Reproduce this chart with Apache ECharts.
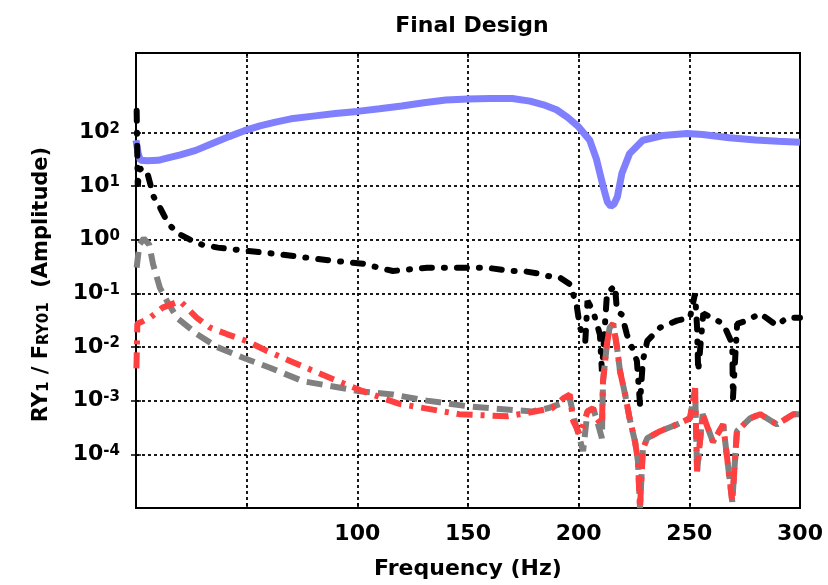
<!DOCTYPE html>
<html>
<head>
<meta charset="utf-8">
<script src="https://cdn.jsdelivr.net/npm/echarts@6/dist/echarts.min.js"></script>
<style>
  html, body { margin: 0; padding: 0; background: #fff; }
  #chart { width: 828px; height: 585px; }
</style>
</head>
<body>
<div id="chart"></div>
<script>
// frequency (Hz) and amplitude
const blueFreq = [0, 1, 2, 5, 10, 14, 20, 27, 35, 42, 49, 56, 63, 70, 80, 90, 100, 110, 120, 130, 140, 150, 160, 170, 178, 185, 190, 195, 200, 205, 208, 211, 213, 214.5, 216, 217.5, 219.5, 223, 229, 238, 249, 256, 268, 280, 290, 300];
const blueAmp = [71, 40, 30, 29.5, 30, 33, 38, 46, 63, 83, 107, 132, 155, 178, 200, 224, 245, 275, 309, 355, 398, 417, 427, 427, 380, 316, 263, 190, 126, 71, 32, 10, 5, 4.2, 4.6, 6.3, 17, 40, 71, 87, 95, 91, 79, 72, 68, 65];

const blackFreq = [0.3, 0.8, 1.5, 3, 5.4, 8, 10.8, 14.5, 19, 24.4, 30, 37, 48, 62, 75.5, 87.6, 102.5, 116, 131.5, 149.5, 158.6, 169, 175, 182.5, 186, 191.6, 196, 199, 200.6, 203, 204, 206.5, 209.6, 210.5, 212.8, 216.4, 217.3, 219.5, 221.8, 224, 226.3, 227.7, 229, 231, 236.8, 244.4, 250.3, 252.6, 253.5, 254, 256.3, 262.6, 265.3, 269.4, 269.7, 271.6, 276, 282, 289.6, 294, 300];
const blackAmp = [251, 10, 20, 22, 15.8, 6.3, 4, 2, 1.3, 1.0, 0.8, 0.71, 0.63, 0.55, 0.47, 0.41, 0.355, 0.26, 0.3, 0.3, 0.3, 0.26, 0.26, 0.23, 0.21, 0.195, 0.148, 0.063, 0.023, 0.013, 0.072, 0.047, 0.017, 0.0035, 0.1, 0.138, 0.047, 0.04, 0.017, 0.01, 0.0055, 0.00087, 0.0055, 0.013, 0.023, 0.031, 0.035, 0.1, 0.023, 0.0035, 0.042, 0.031, 0.027, 0.0115, 0.0011, 0.027, 0.031, 0.042, 0.025, 0.035, 0.035];

const grayFreq = [0.3, 1.5, 3.5, 6, 7.7, 10.8, 14, 18.5, 27.5, 36.6, 48.4, 60.5, 75.5, 93.6, 101, 116, 131.5, 149.5, 161, 179, 186, 191.6, 196, 198, 202, 204, 206.5, 208, 210.5, 211, 212.8, 214, 215.6, 217.3, 218.7, 221, 223, 225.5, 226.8, 227.7, 229, 231, 236.8, 244.4, 250.3, 252.6, 253.5, 256, 260.7, 265.3, 269.4, 271.5, 277.5, 282, 289.6, 297, 300];
const grayAmp = [0.3, 0.8, 1.05, 0.8, 0.35, 0.126, 0.072, 0.035, 0.0174, 0.01, 0.0063, 0.0041, 0.0023, 0.0017, 0.0015, 0.0013, 0.001, 0.00079, 0.00072, 0.00063, 0.00072, 0.00087, 0.0011, 0.00045, 0.000115, 0.00063, 0.00072, 0.00047, 0.0002, 0.0023, 0.0115, 0.023, 0.027, 0.01, 0.0035, 0.0013, 0.00047, 0.00017, 0.000074, 0.00001, 0.000126, 0.0002, 0.00027, 0.00036, 0.00047, 0.0017, 0.000048, 0.00056, 0.00017, 0.00036, 0.000013, 0.00027, 0.00047, 0.00056, 0.00036, 0.00056, 0.00056];

const redFreq = [0.2, 0.6, 3, 6.3, 12, 19.9, 27.5, 33.4, 41, 50, 59, 69.6, 83, 93.6, 102.5, 119, 146, 167.6, 176.6, 188, 193, 196, 197.5, 200.6, 204, 206.5, 208, 210.5, 211, 212.8, 214, 215.6, 217.3, 218.7, 221, 223, 225.5, 226.8, 227.7, 229, 231, 236.8, 244.4, 250.3, 252.6, 253.5, 256, 260.7, 265.3, 269.4, 271.5, 277.5, 282, 289.6, 297, 300];
const redAmp = [0.004, 0.027, 0.03, 0.035, 0.054, 0.072, 0.035, 0.023, 0.0174, 0.0129, 0.0085, 0.0055, 0.0032, 0.0021, 0.0015, 0.00087, 0.00056, 0.00051, 0.00059, 0.00072, 0.0011, 0.0013, 0.00042, 0.00023, 0.00063, 0.00072, 0.00047, 0.00035, 0.0023, 0.0115, 0.023, 0.027, 0.01, 0.0035, 0.0013, 0.00047, 0.00017, 0.000074, 0.00001, 0.000126, 0.0002, 0.00027, 0.00036, 0.00047, 0.0017, 0.000048, 0.00056, 0.00017, 0.00036, 0.000013, 0.00027, 0.00047, 0.00056, 0.00036, 0.00056, 0.00056];

const yTickValues = [1e-4, 1e-3, 1e-2, 1e-1, 1, 10, 100];
const xLabelValues = [100, 150, 200, 250, 300];

const FONT = "DejaVu Sans";
const zip = (xs, ys) => xs.map((x, i) => [x, ys[i]]);

const chart = echarts.init(document.getElementById("chart"));

const gridDash = { color: "#000", width: 1.8, type: [3, 3] };
const tickStyle = { color: "#000", width: 1.5 };

chart.setOption({
	animation: false,
	backgroundColor: "#fff",
	title: {
		text: "Final Design",
		left: 467,
		top: 10,
		textAlign: "center",
		textStyle: { fontFamily: FONT, fontWeight: "bold", fontSize: 22, color: "#000" },
	},
	grid: {
		left: 136,
		right: 28,
		top: 53,
		bottom: 77,
		show: true,
		borderColor: "#000",
		borderWidth: 2,
	},
	xAxis: [
		{
			type: "value",
			min: 0,
			max: 300,
			interval: 50,
			name: "Frequency (Hz)",
			nameLocation: "middle",
			nameGap: 50,
			nameTextStyle: { fontFamily: FONT, fontWeight: "bold", fontSize: 22, color: "#000" },
			axisLine: { show: true, lineStyle: { color: "#000", width: 2 } },
			axisTick: { show: true, inside: true, length: 5, lineStyle: tickStyle },
			axisLabel: {
				customValues: xLabelValues,
				margin: 15,
				fontFamily: FONT,
				fontWeight: "bold",
				fontSize: 22,
				color: "#000",
			},
			splitLine: { show: true, lineStyle: gridDash },
		},
		{
			type: "value",
			position: "top",
			min: 0,
			max: 300,
			interval: 50,
			axisLine: { show: false },
			axisTick: { show: true, inside: true, length: 5, lineStyle: tickStyle },
			axisLabel: { show: false },
			splitLine: { show: false },
		},
	],
	yAxis: [
		{
			type: "log",
			min: 1e-5,
			max: 3000,
			name: "RY{s|1} / F{s|RY01}  (Amplitude)",
			nameLocation: "middle",
			nameRotate: 90,
			nameGap: 84,
			nameTextStyle: {
				fontFamily: FONT,
				fontWeight: "bold",
				fontSize: 21,
				color: "#000",
				padding: [0, 8, 0, 0],
				rich: {
					s: { fontFamily: FONT, fontWeight: "bold", fontSize: 15, color: "#000", lineHeight: 15, verticalAlign: "bottom", padding: [12, 0, 0, 0] },
				},
			},
			axisLine: { show: true, lineStyle: { color: "#000", width: 2 } },
			axisTick: { show: true, inside: true, length: 5, customValues: yTickValues, lineStyle: tickStyle },
			axisLabel: {
				customValues: yTickValues,
				margin: 16,
				formatter: (v) => "{b|10}{s|" + Math.round(Math.log10(v)) + "}",
				rich: {
					b: { fontFamily: FONT, fontWeight: "bold", fontSize: 22, color: "#000", lineHeight: 22, verticalAlign: "bottom" },
					s: { fontFamily: FONT, fontWeight: "bold", fontSize: 15, color: "#000", lineHeight: 15, verticalAlign: "top", padding: [0, 0, 22, 0] },
				},
			},
			splitLine: { show: true, lineStyle: gridDash },
		},
		{
			type: "log",
			position: "right",
			min: 1e-5,
			max: 3000,
			axisLine: { show: false },
			axisTick: { show: true, inside: true, length: 5, customValues: yTickValues, lineStyle: tickStyle },
			axisLabel: { show: false },
			splitLine: { show: false },
		},
	],
	series: [
		{
			name: "blue",
			type: "line",
			data: zip(blueFreq, blueAmp),
			showSymbol: false,
			lineStyle: { color: "#8080ff", width: 7 },
		},
		{
			name: "black",
			type: "line",
			data: zip(blackFreq, blackAmp),
			showSymbol: false,
			lineStyle: { color: "#000", width: 6, type: [10, 12, 1, 12], cap: "round" },
		},
		{
			name: "gray",
			type: "line",
			data: zip(grayFreq, grayAmp),
			showSymbol: false,
			lineStyle: { color: "#808080", width: 6, type: [16, 8] },
		},
		{
			name: "red",
			type: "line",
			data: zip(redFreq, redAmp),
			showSymbol: false,
			lineStyle: { color: "#ff4040", width: 6, type: [16, 8, 4, 8] },
		},
	],
});
</script>
</body>
</html>
